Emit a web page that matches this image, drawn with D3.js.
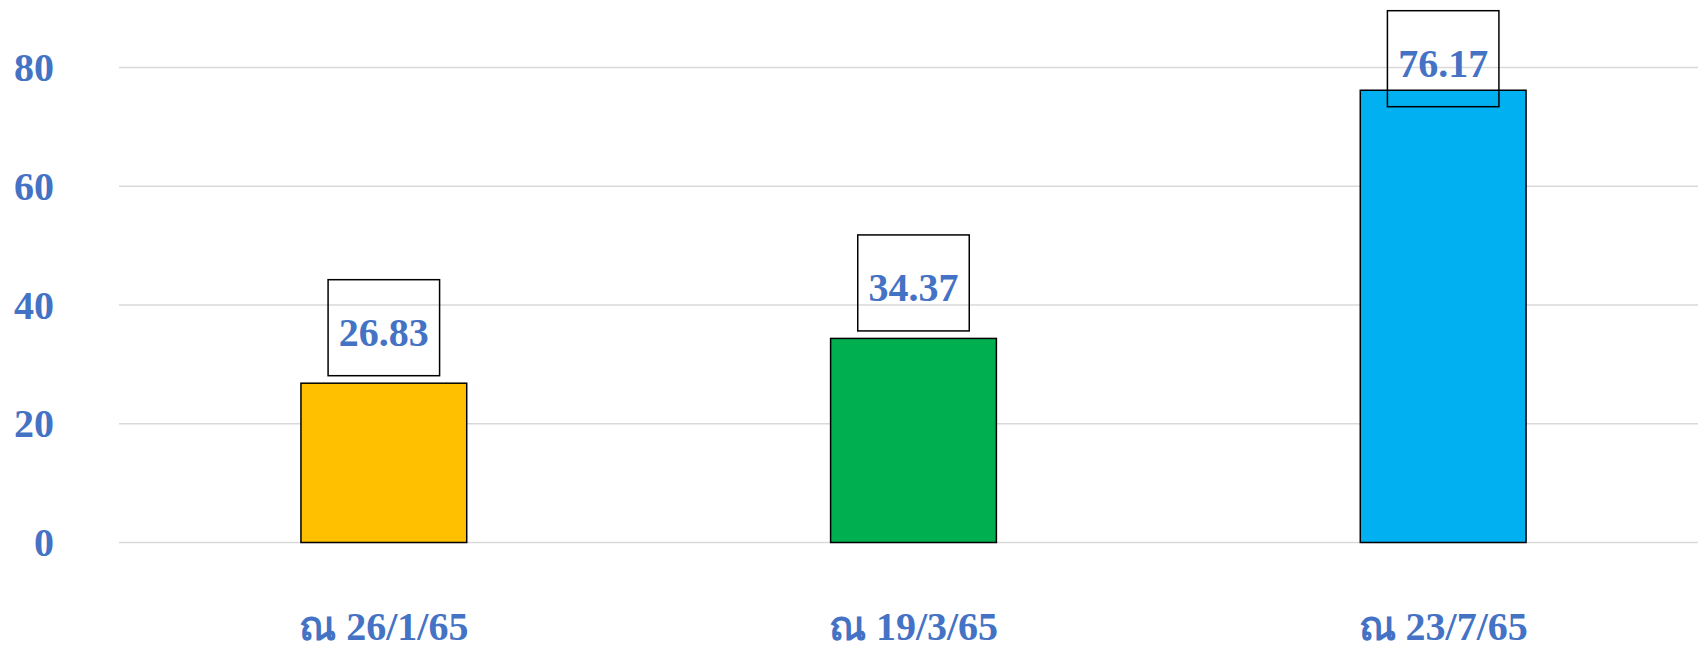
<!DOCTYPE html>
<html><head><meta charset="utf-8">
<script src="https://cdn.jsdelivr.net/npm/d3@7"></script>
<style>
html,body{margin:0;padding:0;background:#fff;overflow:hidden}
text{font-family:"Liberation Serif","Times New Roman",serif;font-weight:bold;fill:#4472C4}
</style></head>
<body>
<svg id="c" width="1698" height="650"></svg>
<script>
const categories = ["ณ 26/1/65", "ณ 19/3/65", "ณ 23/7/65"];
const values = [26.83, 34.37, 76.17];
const barColors = ["#FFC000", "#00B050", "#00B0F0"];
const yTicks = [0, 20, 40, 60, 80];

const svg = d3.select("#c");
const W = 1698, H = 650;
const x = d3.scaleBand().domain(categories).range([119, 1708]).paddingInner(0.687).paddingOuter(0.3435);
const y = d3.scaleLinear().domain([0, 80]).range([542.5, 67.5]);

// gridlines
const grid = svg.append("g").attr("class","grid");
grid.selectAll("line").data(yTicks).join("line")
  .attr("x1", 119).attr("x2", W)
  .attr("y1", d => y(d)).attr("y2", d => y(d))
  .attr("stroke", "#d9d9d9").attr("stroke-width", 1.5);

// y axis labels
const yAxis = d3.axisLeft(y).tickValues(yTicks).tickSize(0).tickPadding(0);
const ya = svg.append("g").attr("transform", "translate(54,0)").call(yAxis);
ya.select(".domain").remove();
ya.selectAll("text").attr("font-size", 40).attr("dy", null).attr("dominant-baseline", null)
  .attr("y", 13).attr("x", 0).attr("text-anchor", "end")
  .style("font-family", '"Liberation Serif","Times New Roman",serif').style("font-weight", "bold").attr("fill", "#4472C4");

// bars
const data = categories.map((c, i) => ({c, v: values[i], col: barColors[i]}));
svg.append("g").selectAll("rect").data(data).join("rect")
  .attr("x", d => x(d.c)).attr("width", x.bandwidth())
  .attr("y", d => y(d.v)).attr("height", d => y(0) - y(d.v))
  .attr("fill", d => d.col).attr("stroke", "#000").attr("stroke-width", 1.5);

// data labels with boxes
const boxW = 111.5, boxH = 96, gap = 7.5, minTop = 10.7;
const lbl = svg.append("g").selectAll("g").data(data).join("g")
  .attr("transform", d => {
    const cx = x(d.c) + x.bandwidth() / 2;
    const top = Math.max(minTop, y(d.v) - gap - boxH);
    return `translate(${cx},${top})`;
  });
lbl.append("rect").attr("x", -boxW/2).attr("y", 0).attr("width", boxW).attr("height", boxH)
  .attr("fill", "none").attr("stroke", "#000").attr("stroke-width", 1.5);
lbl.append("text").attr("x", 0).attr("y", 66).attr("text-anchor", "middle").attr("font-size", 40)
  .text(d => d.v.toFixed(2));

// x axis labels
const xAxis = d3.axisBottom(x).tickSize(0).tickPadding(0);
const xa = svg.append("g").attr("transform", "translate(0,0)").call(xAxis);
xa.select(".domain").remove();
xa.selectAll("text").attr("y", 640).attr("dy", null).attr("font-size", 40)
  .style("font-family", '"Liberation Serif","Times New Roman",serif').style("font-weight", "bold").attr("fill", "#4472C4");
</script>
</body></html>
